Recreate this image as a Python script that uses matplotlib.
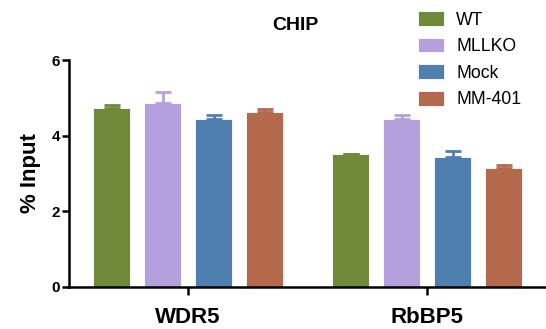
import matplotlib
matplotlib.use("Agg")
import matplotlib.pyplot as plt
import numpy as np
from matplotlib.patches import Patch

plt.rcParams['font.family'] = ['Liberation Sans', 'DejaVu Sans']

groups = ["WDR5", "RbBP5"]
series = ["WT", "MLLKO", "Mock", "MM-401"]
colors = ["#6F8A3A", "#B4A0DC", "#4F7EB0", "#B5694C"]
values = {
    "WT":     [4.72, 3.50],
    "MLLKO":  [4.87, 4.44],
    "Mock":   [4.43, 3.44],
    "MM-401": [4.63, 3.15],
}
errors = {
    "WT":     [0.10, 0.02],
    "MLLKO":  [0.28, 0.11],
    "Mock":   [0.11, 0.15],
    "MM-401": [0.08, 0.07],
}
yticks = [0, 2, 4, 6]

fig = plt.figure(figsize=(5.46, 3.29), dpi=100)
ax = fig.add_axes([0.1255, 0.1286, 0.8755, 0.689])

x = np.arange(len(groups))
step = 0.2134
width = 0.155
for i, s in enumerate(series):
    pos = x + (i - 1.5) * step
    ax.bar(pos, values[s], width=width, color=colors[i], edgecolor='white', linewidth=0.6, zorder=2)
    ax.errorbar(pos, values[s], yerr=[np.zeros(len(groups)), errors[s]], fmt='none',
                ecolor=colors[i], elinewidth=2, capsize=5.5, capthick=2, zorder=3)

ax.set_xlim(-0.5, 1.5)
ax.set_ylim(0, 6)
ax.set_yticks(yticks)
ax.set_yticklabels([str(t) for t in yticks], fontsize=11, fontweight='bold')
ax.set_xticks(x)
ax.set_xticklabels(groups, fontsize=16, fontweight='bold')
ax.set_ylabel("% Input", fontsize=16, fontweight='bold', labelpad=8)
for sp in ['top', 'right']:
    ax.spines[sp].set_visible(False)
for sp in ['left', 'bottom']:
    ax.spines[sp].set_linewidth(1.8)
ax.tick_params(axis='y', length=5, width=1.8, pad=1)
ax.tick_params(axis='x', length=6, width=1.8, pad=8.5)

fig.text(295 / 546, 1 - 25 / 329, "CHIP", ha='center', va='center', fontsize=14, fontweight='bold')

handles = [Patch(facecolor=c, edgecolor='white', linewidth=0.6) for c in colors]
fig.legend(handles, series, loc='upper left', bbox_to_anchor=(418 / 546, 0.966), frameon=False,
           fontsize=12.7, handlelength=1.48, handleheight=0.9, labelspacing=0.52,
           handletextpad=0.68, borderpad=0, borderaxespad=0)

fig.savefig("out.png", dpi=100)
